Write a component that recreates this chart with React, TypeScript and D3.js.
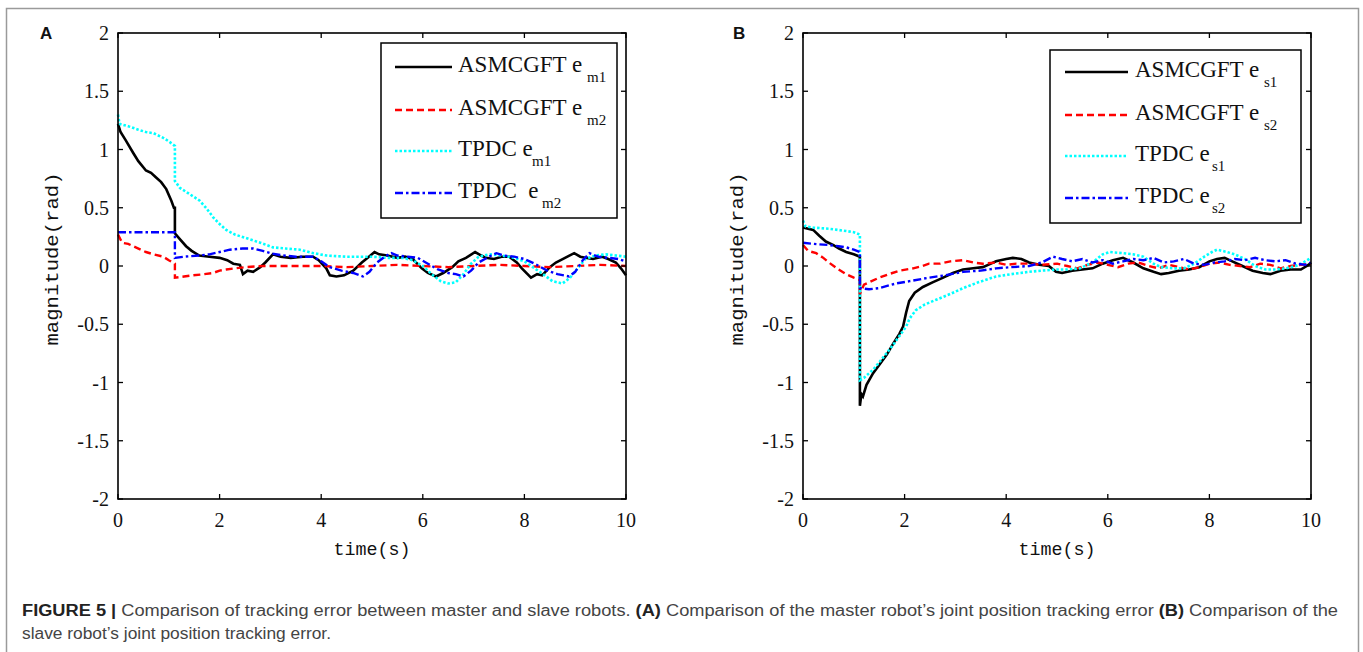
import React from "react";
import * as d3 from "d3";

type Pt = [number, number];

const xTicks = [0, 2, 4, 6, 8, 10];
const yTicks = [-2, -1.5, -1, -0.5, 0, 0.5, 1, 1.5, 2];
const yTickLabels = ["-2", "-1.5", "-1", "-0.5", "0", "0.5", "1", "1.5", "2"];

const seriesNamesA = ["ASMCGFT e", "ASMCGFT e", "TPDC e", "TPDC\u00a0\u00a0e"];
const seriesNamesB = ["ASMCGFT e", "ASMCGFT e", "TPDC e", "TPDC e"];
const subsA = ["m1", "m2", "m1", "m2"];
const subsB = ["s1", "s2", "s1", "s2"];

// Panel A: master robot tracking error
const aAsmc1: Pt[] = [[0,1.22],[0.05,1.15],[0.15,1.08],[0.3,0.97],[0.4,0.9],[0.55,0.82],[0.65,0.8],[0.75,0.76],[0.85,0.72],[0.95,0.66],[1.05,0.56],[1.1,0.5],[1.12,0.5],[1.12,0.28],[1.2,0.24],[1.34,0.17],[1.45,0.13],[1.6,0.09],[1.8,0.08],[2.0,0.07],[2.15,0.05],[2.27,0.02],[2.4,0.01],[2.46,-0.07],[2.55,-0.04],[2.66,-0.05],[2.8,-0.01],[2.9,0.03],[3.05,0.1],[3.2,0.08],[3.4,0.07],[3.64,0.08],[3.84,0.08],[3.95,0.05],[4.1,-0.02],[4.17,-0.08],[4.3,-0.09],[4.45,-0.08],[4.63,-0.04],[4.8,0.03],[4.94,0.08],[5.05,0.12],[5.14,0.1],[5.3,0.09],[5.5,0.07],[5.65,0.08],[5.8,0.06],[5.98,-0.02],[6.1,-0.06],[6.26,-0.09],[6.4,-0.06],[6.58,-0.01],[6.7,0.04],[6.85,0.07],[7.03,0.12],[7.15,0.09],[7.24,0.07],[7.4,0.06],[7.55,0.08],[7.7,0.08],[7.85,0.03],[7.95,-0.02],[8.13,-0.1],[8.25,-0.07],[8.35,-0.08],[8.5,-0.01],[8.62,0.03],[8.8,0.07],[8.98,0.11],[9.1,0.08],[9.2,0.07],[9.35,0.06],[9.53,0.08],[9.65,0.06],[9.8,0.03],[9.9,-0.02],[10,-0.08]];
const aAsmc2: Pt[] = [[0,0.27],[0.08,0.2],[0.2,0.19],[0.35,0.16],[0.55,0.12],[0.7,0.1],[0.89,0.08],[1.0,0.05],[1.12,0.02],[1.12,-0.1],[1.3,-0.09],[1.48,-0.08],[1.7,-0.07],[1.87,-0.06],[2.0,-0.04],[2.13,-0.03],[2.3,-0.02],[2.52,-0.01],[2.85,0.0],[3.5,0.0],[4.0,0.0],[4.5,-0.01],[5.0,0.0],[5.5,0.01],[6.0,0.0],[6.5,-0.01],[7.0,0.0],[7.5,0.01],[8.0,0.0],[8.5,-0.01],[9.0,0.0],[9.5,0.01],[10,0.0]];
const aTpdc1: Pt[] = [[0,1.3],[0.03,1.22],[0.2,1.2],[0.4,1.17],[0.55,1.15],[0.7,1.14],[0.89,1.1],[1.0,1.07],[1.12,1.03],[1.12,0.73],[1.22,0.67],[1.4,0.62],[1.61,0.56],[1.75,0.49],[1.87,0.42],[2.0,0.36],[2.13,0.31],[2.3,0.27],[2.52,0.24],[2.8,0.2],[3.05,0.16],[3.3,0.15],[3.58,0.14],[3.85,0.11],[4.1,0.09],[4.5,0.08],[5.0,0.08],[5.3,0.07],[5.6,0.07],[5.8,0.05],[6.0,0.0],[6.2,-0.08],[6.35,-0.13],[6.5,-0.15],[6.65,-0.14],[6.8,-0.07],[6.95,0.02],[7.1,0.08],[7.3,0.1],[7.55,0.09],[7.8,0.07],[8.0,0.04],[8.2,-0.02],[8.4,-0.08],[8.55,-0.13],[8.75,-0.15],[8.9,-0.1],[9.05,-0.02],[9.2,0.06],[9.4,0.09],[9.6,0.1],[9.8,0.09],[10,0.08]];
const aTpdc2: Pt[] = [[0,0.29],[0.5,0.29],[1.0,0.29],[1.12,0.29],[1.12,0.07],[1.3,0.08],[1.6,0.09],[1.8,0.1],[2.0,0.12],[2.2,0.14],[2.45,0.15],[2.66,0.15],[2.85,0.13],[3.0,0.11],[3.25,0.09],[3.5,0.08],[3.84,0.08],[4.0,0.04],[4.17,-0.01],[4.4,-0.04],[4.63,-0.06],[4.82,-0.09],[4.95,-0.05],[5.1,0.03],[5.25,0.08],[5.38,0.11],[5.5,0.09],[5.7,0.08],[5.9,0.07],[6.1,0.02],[6.3,-0.03],[6.5,-0.06],[6.65,-0.07],[6.8,-0.09],[6.95,-0.04],[7.1,0.03],[7.3,0.08],[7.45,0.11],[7.6,0.09],[7.8,0.08],[8.0,0.06],[8.2,0.02],[8.45,-0.04],[8.65,-0.07],[8.88,-0.09],[9.0,-0.05],[9.15,0.05],[9.28,0.11],[9.45,0.08],[9.65,0.07],[9.85,0.06],[10,0.04]];

// Panel B: slave robot tracking error
const bAsmc1: Pt[] = [[0,0.33],[0.2,0.31],[0.32,0.26],[0.45,0.21],[0.6,0.18],[0.71,0.15],[0.85,0.12],[1.0,0.1],[1.12,0.08],[1.12,-1.2],[1.15,-1.1],[1.18,-1.12],[1.25,-1.02],[1.38,-0.92],[1.5,-0.85],[1.65,-0.76],[1.77,-0.67],[1.9,-0.58],[1.97,-0.52],[2.03,-0.4],[2.09,-0.3],[2.2,-0.23],[2.36,-0.18],[2.55,-0.14],[2.76,-0.1],[2.95,-0.06],[3.15,-0.03],[3.35,-0.02],[3.54,-0.01],[3.7,0.02],[3.8,0.04],[4.0,0.06],[4.13,0.07],[4.3,0.06],[4.45,0.03],[4.65,0.01],[4.84,0.0],[4.98,-0.05],[5.1,-0.06],[5.3,-0.04],[5.5,-0.03],[5.7,-0.02],[5.9,0.02],[6.1,0.05],[6.3,0.07],[6.5,0.03],[6.7,-0.02],[6.9,-0.05],[7.05,-0.07],[7.2,-0.06],[7.4,-0.04],[7.6,-0.03],[7.8,-0.01],[8.0,0.04],[8.15,0.06],[8.3,0.07],[8.45,0.04],[8.65,0.0],[8.85,-0.04],[9.05,-0.06],[9.2,-0.07],[9.4,-0.04],[9.6,-0.03],[9.8,-0.03],[9.95,0.01],[10,0.03]];
const bAsmc2: Pt[] = [[0,0.18],[0.1,0.13],[0.26,0.11],[0.4,0.07],[0.51,0.03],[0.7,-0.03],[0.85,-0.07],[1.0,-0.1],[1.12,-0.12],[1.12,-0.24],[1.2,-0.16],[1.3,-0.14],[1.5,-0.1],[1.69,-0.07],[1.9,-0.04],[2.17,-0.02],[2.35,0.0],[2.48,0.02],[2.7,0.02],[2.9,0.04],[3.15,0.05],[3.35,0.03],[3.54,0.02],[3.8,0.03],[4.0,0.01],[4.2,0.02],[4.45,0.02],[4.7,0.01],[5.0,0.02],[5.2,0.0],[5.4,-0.02],[5.6,0.01],[5.8,0.03],[6.0,0.01],[6.2,-0.01],[6.4,0.02],[6.6,0.03],[6.8,0.0],[7.0,-0.02],[7.2,0.01],[7.4,-0.01],[7.6,-0.03],[7.8,-0.01],[8.0,0.02],[8.2,0.03],[8.4,0.01],[8.6,0.0],[8.8,-0.01],[9.0,0.02],[9.2,0.01],[9.4,-0.02],[9.6,0.0],[9.8,0.01],[10,0.02]];
const bTpdc1: Pt[] = [[0,0.39],[0.05,0.34],[0.2,0.33],[0.51,0.32],[0.85,0.3],[1.0,0.29],[1.12,0.27],[1.12,-0.98],[1.2,-0.96],[1.38,-0.89],[1.55,-0.8],[1.77,-0.68],[1.9,-0.6],[2.03,-0.52],[2.1,-0.45],[2.22,-0.38],[2.4,-0.33],[2.62,-0.29],[2.9,-0.24],[3.15,-0.19],[3.45,-0.14],[3.8,-0.09],[4.1,-0.07],[4.45,-0.05],[4.7,-0.04],[4.98,-0.03],[5.2,-0.03],[5.45,-0.02],[5.7,0.03],[5.9,0.1],[6.04,0.12],[6.3,0.11],[6.5,0.1],[6.7,0.08],[6.9,0.02],[7.05,-0.01],[7.3,-0.02],[7.5,-0.02],[7.7,0.02],[7.9,0.08],[8.05,0.12],[8.15,0.14],[8.35,0.12],[8.5,0.1],[8.7,0.06],[8.9,0.0],[9.1,-0.03],[9.3,-0.03],[9.5,-0.02],[9.7,0.0],[9.85,0.03],[10,0.07]];
const bTpdc2: Pt[] = [[0,0.2],[0.2,0.19],[0.51,0.18],[0.7,0.17],[0.85,0.16],[1.0,0.14],[1.12,0.12],[1.12,-0.19],[1.3,-0.2],[1.5,-0.19],[1.83,-0.15],[2.1,-0.13],[2.48,-0.1],[2.8,-0.08],[3.15,-0.05],[3.5,-0.04],[3.8,-0.02],[4.1,-0.01],[4.45,0.0],[4.7,0.03],[4.92,0.08],[5.1,0.06],[5.3,0.04],[5.5,0.06],[5.7,0.03],[5.9,0.05],[6.1,0.02],[6.3,0.04],[6.5,0.06],[6.7,0.05],[6.9,0.07],[7.1,0.03],[7.3,0.04],[7.5,0.06],[7.7,0.02],[7.9,0.01],[8.1,0.03],[8.3,0.04],[8.5,0.06],[8.7,0.05],[8.9,0.07],[9.1,0.05],[9.3,0.04],[9.5,0.05],[9.7,0.02],[9.9,0.01],[10,0.03]];

const styles = [
  { color: "#000000", dash: "none", width: 2.6 },
  { color: "#ff0000", dash: "7,4", width: 2.4 },
  { color: "#00ffff", dash: "2.5,2", width: 2.6 },
  { color: "#0000ff", dash: "8,3,2.5,3", width: 2.4 },
];

const SERIF = "'Liberation Serif', 'Times New Roman', serif";
const MONO = "'Liberation Mono', 'DejaVu Sans Mono', monospace";

interface PanelProps {
  letter: string;
  letterX: number;
  left: number;
  right: number;
  data: Pt[][];
  names: string[];
  subs: string[];
  legend: { x0: number; x1: number; y0: number; y1: number; rows: number[]; lineX0: number; lineX1: number; textX: number; subX: number[] };
  ylabelX: number;
}

const TOP = 33;
const BOTTOM = 499;

function Panel(p: PanelProps) {
  const x = d3.scaleLinear().domain([0, 10]).range([p.left, p.right]);
  const y = d3.scaleLinear().domain([-2, 2]).range([BOTTOM, TOP]);
  const line = d3.line<Pt>().x((d) => x(d[0])).y((d) => y(d[1]));
  const tick = 5;
  return (
    <g>
      <text x={p.letterX} y={39} fontFamily="'Liberation Sans', Arial, sans-serif" fontWeight="bold" fontSize={17} fill="#111">{p.letter}</text>
      <g>
        {p.data.map((d, i) => (
          <path key={i} d={line(d) || ""} fill="none" stroke={styles[i].color} strokeWidth={styles[i].width}
            strokeDasharray={styles[i].dash} strokeLinejoin="miter" />
        ))}
      </g>
      <rect x={p.left} y={TOP} width={p.right - p.left} height={BOTTOM - TOP} fill="none" stroke="#000" strokeWidth={1.6} />
      {xTicks.map((t) => (
        <g key={"x" + t}>
          <line x1={x(t)} x2={x(t)} y1={BOTTOM} y2={BOTTOM - tick} stroke="#000" strokeWidth={1.3} />
          <line x1={x(t)} x2={x(t)} y1={TOP} y2={TOP + tick} stroke="#000" strokeWidth={1.3} />
          <text x={x(t)} y={527} textAnchor="middle" fontFamily={SERIF} fontSize={20} fill="#111">{t}</text>
        </g>
      ))}
      {yTicks.map((t, i) => (
        <g key={"y" + t}>
          <line x1={p.left} x2={p.left + tick} y1={y(t)} y2={y(t)} stroke="#000" strokeWidth={1.3} />
          <line x1={p.right} x2={p.right - tick} y1={y(t)} y2={y(t)} stroke="#000" strokeWidth={1.3} />
          <text x={p.left - 9} y={y(t) + 7} textAnchor="end" fontFamily={SERIF} fontSize={20} fill="#111">{yTickLabels[i]}</text>
        </g>
      ))}
      <text x={(p.left + p.right) / 2} y={555} textAnchor="middle" fontFamily={MONO} fontSize={18} textLength={77} lengthAdjust="spacingAndGlyphs" fill="#111">time(s)</text>
      <text transform={`translate(${p.ylabelX},${(TOP + BOTTOM) / 2 - 7}) rotate(-90)`} textAnchor="middle" fontFamily={MONO} fontSize={19} textLength={173} lengthAdjust="spacingAndGlyphs" fill="#111">magnitude(rad)</text>
      <rect x={p.legend.x0} y={p.legend.y0} width={p.legend.x1 - p.legend.x0} height={p.legend.y1 - p.legend.y0} fill="#fff" stroke="#000" strokeWidth={1.5} />
      {p.legend.rows.map((ry, i) => (
        <g key={"l" + i}>
          <line x1={p.legend.lineX0} x2={p.legend.lineX1} y1={ry} y2={ry} stroke={styles[i].color} strokeWidth={styles[i].width} strokeDasharray={styles[i].dash} />
          <text x={p.legend.textX} y={ry + 5} fontFamily={SERIF} fontSize={23} fill="#111">{p.names[i]}</text>
          <text x={p.legend.subX[i]} y={ry + 15} fontFamily={SERIF} fontSize={15} fill="#111">{p.subs[i]}</text>
        </g>
      ))}
    </g>
  );
}

export default function App() {
  const capFont = "'Liberation Sans Narrow', 'Liberation Sans', Arial, sans-serif";
  return (
    <svg width={1363} height={652} style={{ position: "absolute", left: 0, top: 0, background: "#fff" }}>
      <rect x={0} y={0} width={1363} height={652} fill="#fff" />
      <rect x={6.5} y={8.5} width={1352} height={700} fill="none" stroke="#9a9a9a" strokeWidth={1.5} />
      <Panel letter="A" letterX={40} left={118} right={626}
        data={[aAsmc1, aAsmc2, aTpdc1, aTpdc2]} names={seriesNamesA} subs={subsA} ylabelX={58}
        legend={{ x0: 381, x1: 617, y0: 43, y1: 218, rows: [67, 110, 151, 193], lineX0: 395, lineX1: 452, textX: 458, subX: [587, 587, 532, 542] }} />
      <Panel letter="B" letterX={733} left={803} right={1311}
        data={[bAsmc1, bAsmc2, bTpdc1, bTpdc2]} names={seriesNamesB} subs={subsB} ylabelX={743}
        legend={{ x0: 1050, x1: 1301, y0: 50, y1: 223, rows: [72, 115, 156, 198], lineX0: 1065, lineX1: 1128, textX: 1135, subX: [1264, 1264, 1212, 1212] }} />
      <text x={22} y={616} fontFamily={capFont} fontSize={16} fill="#444" textLength={1316} lengthAdjust="spacingAndGlyphs">
        <tspan fontWeight="bold" fill="#222">FIGURE 5 | </tspan>
        <tspan>Comparison of tracking error between master and slave robots. </tspan>
        <tspan fontWeight="bold" fill="#222">(A)</tspan>
        <tspan> Comparison of the master robot’s joint position tracking error </tspan>
        <tspan fontWeight="bold" fill="#222">(B)</tspan>
        <tspan> Comparison of the</tspan>
      </text>
      <text x={22} y={639} fontFamily={capFont} fontSize={16} fill="#444" textLength={309} lengthAdjust="spacingAndGlyphs">slave robot’s joint position tracking error.</text>
    </svg>
  );
}
